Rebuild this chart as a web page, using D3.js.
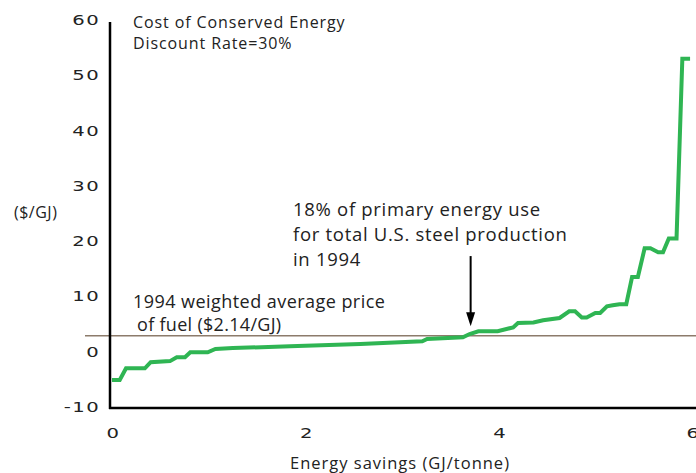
<!DOCTYPE html>
<meta charset="utf-8">

<head>
    <script src="https://d3js.org/d3.v7.min.js"></script>
</head>
<style>
    body {
        margin: 0;
        background: #fff;
        font-family: "Open Sans", Lato, sans-serif;
    }

    .tick text {
        font-family: "DejaVu Sans", sans-serif;
        font-size: 14px;
        letter-spacing: 1px;
        fill: #222;
    }

    .note {
        fill: #222;
    }
</style>

<body>
    <svg id="chart"></svg>
    <script>
        'use strict';

        // energy savings (GJ/tonne) and cost of conserved energy ($/GJ)
        const savings = [0, 0.08, 0.145, 0.34, 0.40, 0.60, 0.67, 0.755, 0.81, 0.99, 1.07, 1.25, 1.84, 2.57,
            3.21, 3.26, 3.63, 3.70, 3.79, 3.99, 4.15, 4.20, 4.36, 4.46, 4.63, 4.73, 4.79, 4.86, 4.91,
            5.00, 5.05, 5.12, 5.18, 5.25, 5.32, 5.38, 5.44, 5.51, 5.57, 5.65, 5.70, 5.76, 5.84, 5.90, 5.98];
        const cost = [-5.1, -5.1, -3.0, -3.0, -1.9, -1.7, -1.0, -1.0, -0.1, -0.1, 0.5, 0.65, 1.0, 1.4,
            1.9, 2.3, 2.6, 3.2, 3.7, 3.7, 4.4, 5.2, 5.3, 5.7, 6.1, 7.3, 7.3, 6.2, 6.2,
            7.0, 7.0, 8.2, 8.4, 8.6, 8.6, 13.5, 13.5, 18.7, 18.7, 18.0, 18.0, 20.5, 20.5, 53.0, 53.0];

        const xTicks = [0, 2, 4, 6];
        const yTicks = [-10, 0, 10, 20, 30, 40, 50, 60];

        // fuel price line as drawn, and where the arrow points
        const priceLevel = 2.9;
        const arrowAt = { x: 3.71, from: 17.3, to: 4.6 };

        const width = 696, height = 473;
        const stretch = 1.4; // tick labels are set in a wide face

        const x = d3.scaleLinear().domain([0, 6]).range([112, 692]);
        const y = d3.scaleLinear().domain([-10, 60]).range([407, 20]);

        const svg = d3.select("#chart")
            .attr("width", width)
            .attr("height", height);

        // price line
        svg.append("line")
            .attr("x1", 85).attr("x2", width)
            .attr("y1", y(priceLevel)).attr("y2", y(priceLevel))
            .attr("stroke", "#8c7b6b")
            .attr("stroke-width", 1.5);

        // axes
        const yAxis = svg.append("g")
            .attr("transform", "translate(110,0)")
            .call(d3.axisLeft(y).tickValues(yTicks).tickSize(0).tickFormat((d) => String(d)));
        yAxis.select(".domain").remove();
        yAxis.selectAll("text")
            .attr("x", -10 / stretch)
            .attr("transform", `scale(${stretch},1)`);

        const xAxis = svg.append("g")
            .attr("transform", "translate(0,408)")
            .call(d3.axisBottom(x).tickValues(xTicks).tickSize(0).tickPadding(20).tickFormat((d) => String(d)));
        xAxis.select(".domain").remove();
        xAxis.selectAll("text")
            .attr("x", 1 / stretch)
            .attr("transform", `scale(${stretch},1)`);

        svg.append("line")
            .attr("x1", 110).attr("x2", 110)
            .attr("y1", 22).attr("y2", 409)
            .attr("stroke", "#000").attr("stroke-width", 2.5);
        svg.append("line")
            .attr("x1", 109).attr("x2", width)
            .attr("y1", 408).attr("y2", 408)
            .attr("stroke", "#000").attr("stroke-width", 2.5);

        // cost curve
        const line = d3.line()
            .x((d, i) => x(savings[i]))
            .y((d) => y(d));

        svg.append("path")
            .datum(cost)
            .attr("d", line)
            .attr("fill", "none")
            .attr("stroke", "#2fb553")
            .attr("stroke-width", 4);

        // arrow
        const ax = x(arrowAt.x), tip = y(arrowAt.to);
        svg.append("line")
            .attr("x1", ax).attr("x2", ax)
            .attr("y1", y(arrowAt.from)).attr("y2", tip - 8)
            .attr("stroke", "#000").attr("stroke-width", 2);
        svg.append("path")
            .attr("d", `M${ax - 4.5},${tip - 14} L${ax + 4.5},${tip - 14} L${ax},${tip} Z`)
            .attr("fill", "#000");

        // texts
        const note = (lines, px, py, size, gap, spacing) => {
            const t = svg.append("text").attr("class", "note")
                .attr("font-size", size)
                .attr("letter-spacing", spacing);
            lines.forEach((s, i) => {
                t.append("tspan").attr("x", px).attr("y", py + i * gap).text(s);
            });
        };

        note(["Cost of Conserved Energy", "Discount Rate=30%"], 133, 28, 16, 21, 0.9);
        note(["18% of primary energy use", "for total U.S. steel production", "in 1994"], 293, 216, 18.5, 25, 0.7);
        note(["1994 weighted average price"], 133, 308, 18, 0, 0.45);
        note(["of fuel ($2.14/GJ)"], 137, 331, 18, 0, 0.3);
        note(["($/GJ)"], 14, 218, 16, 0, 0.5);

        svg.append("text").attr("class", "note")
            .attr("x", 400).attr("y", 469)
            .attr("text-anchor", "middle")
            .attr("font-size", 16.5)
            .attr("letter-spacing", 1)
            .text("Energy savings (GJ/tonne)");
    </script>
